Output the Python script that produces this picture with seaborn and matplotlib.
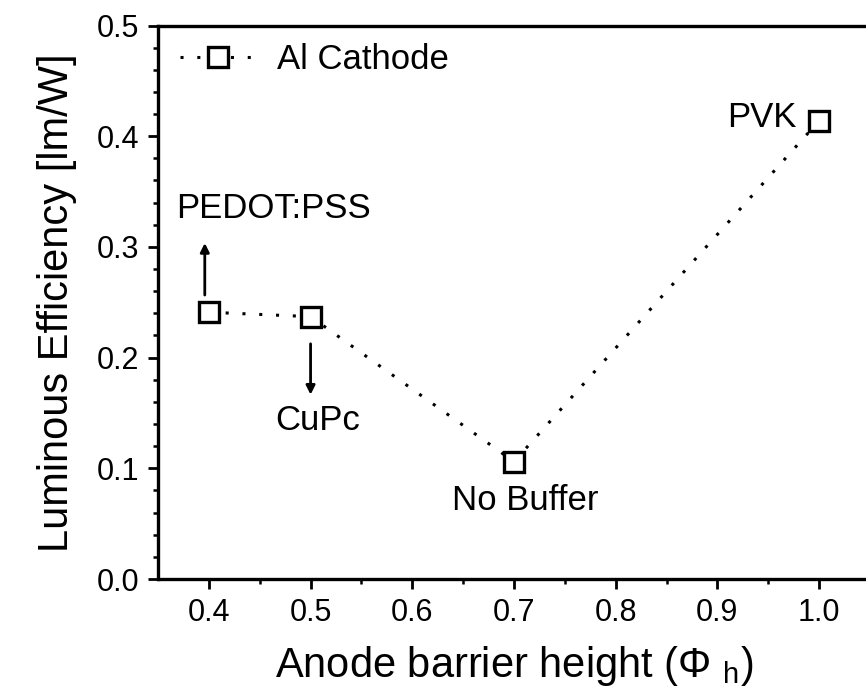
import matplotlib
matplotlib.use("Agg")
import matplotlib.pyplot as plt
from matplotlib.ticker import FormatStrFormatter
import seaborn as sns

# ---- data ----
barrier = [0.4, 0.5, 0.7, 1.0]
efficiency = [0.241, 0.237, 0.106, 0.414]
labels = ["PEDOT:PSS", "CuPc", "No Buffer", "PVK"]

sns.set_style("ticks")
plt.rcParams["font.family"] = ["Liberation Sans", "DejaVu Sans"]
plt.rcParams["mathtext.fontset"] = "custom"
plt.rcParams["mathtext.rm"] = "Liberation Sans"
plt.rcParams["mathtext.it"] = "Liberation Sans"
for key in ["text.color", "axes.labelcolor", "axes.edgecolor", "xtick.color", "ytick.color"]:
    plt.rcParams[key] = "black"

fig = plt.figure(figsize=(8.66, 6.93), dpi=100)
# right edge sits past the figure, like the cropped original
ax = fig.add_axes([158 / 866, 0.1645, 712 / 866, 0.7987])

sns.lineplot(
    x=barrier, y=efficiency, ax=ax,
    color="black", linestyle=(0, (1, 4.5)), linewidth=2.2,
    marker="s", markersize=14.5, markerfacecolor="white",
    markeredgecolor="black", markeredgewidth=2.4,
    label="Al Cathode",
)

ax.set_xlim(0.35, 1.05)
ax.set_ylim(0.0, 0.5)
ax.set_xticks([0.4, 0.5, 0.6, 0.7, 0.8, 0.9, 1.0])
ax.set_xticks([0.45, 0.55, 0.65, 0.75, 0.85, 0.95], minor=True)
ax.set_yticks([0.0, 0.1, 0.2, 0.3, 0.4, 0.5])
ax.set_yticks([v / 100 for v in range(0, 51, 2)], minor=True)
ax.xaxis.set_major_formatter(FormatStrFormatter("%.1f"))
ax.yaxis.set_major_formatter(FormatStrFormatter("%.1f"))

for s in ax.spines.values():
    s.set_linewidth(2.4)
ax.tick_params(which="major", direction="out", length=7.5, width=2, labelsize=22, pad=6)
ax.tick_params(which="minor", direction="out", length=3.8, width=1.8)

ax.set_xlabel("Anode barrier height (Φ $_{\\rm h}$)", fontsize=30, labelpad=12)
ax.set_ylabel("Luminous Efficiency [lm/W]", fontsize=30, labelpad=14)

ax.legend(loc="upper left", frameon=False, fontsize=25,
          handlelength=2.2, handletextpad=0.6, borderaxespad=0.0,
          bbox_to_anchor=(0.011, 0.993))

# ---- point labels ----
arrow = dict(arrowstyle="-|>", color="black", lw=2, mutation_scale=13)
ax.annotate("", xy=(0.396, 0.306), xytext=(0.396, 0.254), arrowprops=arrow)
ax.text(0.4635, 0.335, labels[0], fontsize=25, ha="center", va="center")

ax.annotate("", xy=(0.5, 0.164), xytext=(0.5, 0.215), arrowprops=arrow)
ax.text(0.507, 0.143, labels[1], fontsize=25, ha="center", va="center")

ax.text(0.711, 0.071, labels[2], fontsize=25, ha="center", va="center")
ax.text(0.978, 0.417, labels[3], fontsize=25, ha="right", va="center")

fig.savefig("out.png", dpi=100)
